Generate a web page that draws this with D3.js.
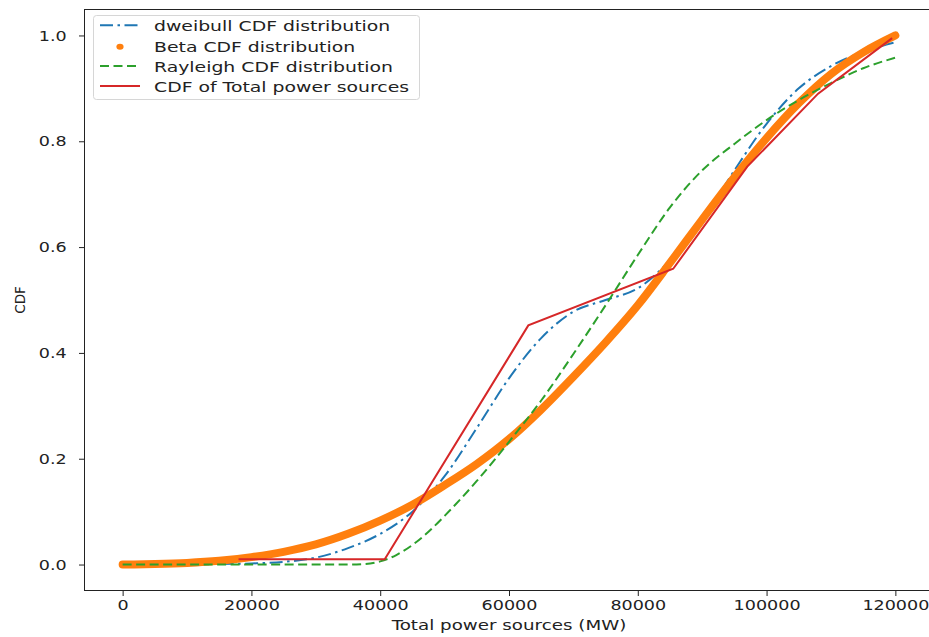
<!DOCTYPE html>
<html>
<head>
<meta charset="utf-8">
<script src="https://cdn.jsdelivr.net/npm/d3@7"></script>
<style>
  html, body { margin: 0; padding: 0; background: #fff; }
  svg { display: block; }
  text { font-family: "DejaVu Sans", sans-serif; fill: #222; }
</style>
</head>
<body>
<svg id="chart" width="929" height="637"></svg>
<script>
// Fitted CDFs over total power (MW)
const xGrid = [0, 5000, 10000, 15000, 20000, 25000, 30000, 35000, 40000, 45000, 50000, 55000, 60000,
               65000, 70000, 75000, 80000, 85000, 90000, 95000, 100000, 105000, 110000, 115000, 120000];
const dweibullCdf = [0, 0, 0, 0.001, 0.002, 0.005, 0.013, 0.031, 0.058, 0.1, 0.167, 0.258, 0.352,
                     0.428, 0.478, 0.5, 0.522, 0.575, 0.65, 0.745, 0.833, 0.9, 0.942, 0.969, 0.987];
const betaCdf = [0, 0.001, 0.003, 0.007, 0.014, 0.024, 0.038, 0.058, 0.083, 0.113, 0.15, 0.19, 0.237,
                 0.293, 0.355, 0.42, 0.49, 0.57, 0.652, 0.732, 0.806, 0.872, 0.927, 0.968, 1.0];
const rayleighX = [0, 10000, 20000, 30000, 35000, 37500, 40000, 42500, 45000, 47500, 50000, 55000, 60000,
                   65000, 70000, 75000, 80000, 85000, 90000, 95000, 100000, 105000, 110000, 115000, 120000];
const rayleighCdf = [0, 0, 0, 0, 0, 0.001, 0.006, 0.018, 0.037, 0.062, 0.092, 0.158, 0.232,
                     0.31, 0.398, 0.49, 0.585, 0.675, 0.745, 0.795, 0.84, 0.878, 0.91, 0.938, 0.958];
// Empirical CDF of total power sources
const empiricalX = [18000, 40700, 63000, 85500, 97000, 108000, 119500];
const empiricalCdf = [0.01, 0.01, 0.452, 0.559, 0.752, 0.89, 0.995];

const xTicks = [0, 20000, 40000, 60000, 80000, 100000, 120000];
const yTicks = [0, 0.2, 0.4, 0.6, 0.8, 1.0];
const legendLabels = ["dweibull CDF distribution", "Beta CDF distribution",
                      "Rayleigh CDF distribution", "CDF of Total power sources"];

const colors = { blue: "#1f77b4", orange: "#ff7f0e", green: "#2ca02c", red: "#d62728" };
// glyphs are drawn wider than tall
const tickStretch = 1.21, labelStretch = 1.26, legendStretch = 1.3;
const fontPx = 14.5;

const svg = d3.select("#chart");
const plotLeft = 84, plotRight = 934, plotTop = 9, plotBottom = 591;

const x = d3.scaleLinear().domain([-6000, 126000]).range([plotLeft, plotRight]);
const y = d3.scaleLinear().domain([-0.05, 1.05]).range([plotBottom, plotTop]);

const plot = svg.append("g");

const line = (xs, ys, curve) => d3.line()
  .x((d, i) => x(xs[i]))
  .y((d, i) => y(ys[i]))
  .curve(curve)(ys);

// dweibull (dash-dot)
plot.append("path")
  .attr("d", line(xGrid, dweibullCdf, d3.curveMonotoneX))
  .attr("fill", "none").attr("stroke", colors.blue)
  .attr("stroke-width", 2).attr("stroke-dasharray", "13,4.5,2.5,4.5");

// Beta (dense markers, shown as a thick band)
plot.append("path")
  .attr("d", line(xGrid, betaCdf, d3.curveMonotoneX))
  .attr("fill", "none").attr("stroke", colors.orange)
  .attr("stroke-width", 8).attr("stroke-linecap", "round").attr("stroke-linejoin", "round");

// Rayleigh (dashed)
plot.append("path")
  .attr("d", line(rayleighX, rayleighCdf, d3.curveMonotoneX))
  .attr("fill", "none").attr("stroke", colors.green)
  .attr("stroke-width", 2).attr("stroke-dasharray", "9,4.5");

// Empirical CDF (solid)
plot.append("path")
  .attr("d", line(empiricalX, empiricalCdf, d3.curveLinear))
  .attr("fill", "none").attr("stroke", colors.red)
  .attr("stroke-width", 2);

// Axes
const xAxis = svg.append("g")
  .attr("transform", `translate(0,${plotBottom})`)
  .call(d3.axisBottom(x).tickValues(xTicks).tickFormat(d3.format("d"))
    .tickSize(5).tickSizeOuter(0).tickPadding(4));
xAxis.select(".domain").remove();
xAxis.selectAll(".tick line").attr("stroke", "#222");
xAxis.selectAll(".tick text")
  .attr("font-size", fontPx).attr("font-family", "DejaVu Sans").attr("fill", "#222")
  .attr("transform", `scale(${tickStretch},1)`);

const yAxis = svg.append("g")
  .attr("transform", `translate(${plotLeft},0)`)
  .call(d3.axisLeft(y).tickValues(yTicks).tickFormat(d3.format(".1f"))
    .tickSize(5).tickSizeOuter(0));
yAxis.select(".domain").remove();
yAxis.selectAll(".tick line").attr("stroke", "#222");
yAxis.selectAll(".tick text")
  .attr("font-size", fontPx).attr("font-family", "DejaVu Sans").attr("fill", "#222")
  .attr("x", -17.3 / tickStretch)
  .attr("transform", `scale(${tickStretch},1)`);

// Frame
svg.append("rect")
  .attr("x", plotLeft + 0.5).attr("y", plotTop + 0.5)
  .attr("width", plotRight - plotLeft).attr("height", plotBottom - plotTop - 1)
  .attr("fill", "none").attr("stroke", "#222").attr("stroke-width", 1);

// Axis titles
svg.append("text")
  .attr("transform", `translate(${(plotLeft + plotRight) / 2},630) scale(${labelStretch},1)`)
  .attr("text-anchor", "middle").attr("font-size", fontPx)
  .text("Total power sources (MW)");

svg.append("text")
  .attr("transform", "translate(25,300) rotate(-90)")
  .attr("text-anchor", "middle").attr("font-size", 13.5)
  .text("CDF");

// Legend
const legend = svg.append("g");
legend.append("rect")
  .attr("x", 93.5).attr("y", 15.5).attr("width", 326).attr("height", 84)
  .attr("rx", 3).attr("fill", "#fff").attr("fill-opacity", 0.8)
  .attr("stroke", "#d6d6d6").attr("stroke-width", 1);

const rowY = [25.3, 46.7, 66, 86];
const styles = [
  { color: colors.blue, dash: "13,4.5,2.5,4.5", kind: "line" },
  { color: colors.orange, kind: "dot" },
  { color: colors.green, dash: "9,4.5", kind: "line" },
  { color: colors.red, dash: null, kind: "line" }
];
legendLabels.forEach((label, i) => {
  const s = styles[i];
  if (s.kind === "line") {
    legend.append("line")
      .attr("x1", 100).attr("x2", 140).attr("y1", rowY[i]).attr("y2", rowY[i])
      .attr("stroke", s.color).attr("stroke-width", 2)
      .attr("stroke-dasharray", s.dash);
  } else {
    legend.append("ellipse")
      .attr("cx", 120).attr("cy", rowY[i]).attr("rx", 3.6).attr("ry", 3)
      .attr("fill", s.color);
  }
  legend.append("text")
    .attr("transform", `translate(154,${rowY[i] + 5.5}) scale(${legendStretch},1)`)
    .attr("font-size", fontPx)
    .text(label);
});
</script>
</body>
</html>
